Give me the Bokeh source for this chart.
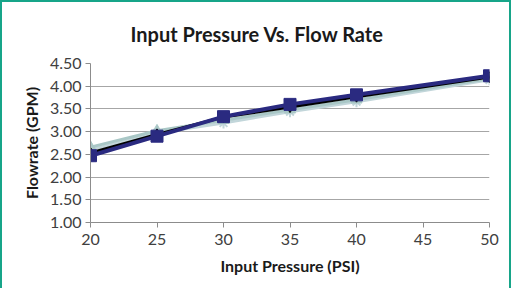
from bokeh.plotting import figure
from bokeh.models import ColumnDataSource, FixedTicker, NumeralTickFormatter, Range1d, Title
from bokeh.embed import file_html
from bokeh.resources import INLINE

pressure = [20, 25, 30, 35, 40, 50]
trial_a = [2.66, 3.02, 3.25, 3.48, 3.70, 4.17]
trial_b = [2.60, 2.97, 3.19, 3.44, 3.66, 4.14]
trial_c = [2.53, 2.94, 3.32, 3.54, 3.77, 4.20]
trial_d = [2.47, 2.90, 3.33, 3.60, 3.81, 4.23]
y_ticks = [1.0, 1.5, 2.0, 2.5, 3.0, 3.5, 4.0, 4.5]
x_ticks = [20, 25, 30, 35, 40, 45, 50]
title_text = "Input Pressure Vs. Flow Rate"

FONT = "Lato"

p = figure(width=511, height=288, output_backend="svg", toolbar_location=None,
           x_range=Range1d(20, 50), y_range=Range1d(1.0, 4.5),
           min_border_left=88, min_border_right=24, min_border_top=61, min_border_bottom=68)
p.styles = {"border": "2px solid #17a589", "border-bottom": "none", "box-sizing": "border-box",
            "box-shadow": "0 -3px 0 #d9d9d9"}
p.background_fill_color = "white"
p.border_fill_color = "white"
p.outline_line_color = None

p.title = Title(text=title_text, align="left", offset=40, vertical_align="middle",
                text_font=FONT, text_font_size="20px", text_font_style="bold",
                text_color="#1a1a1a", standoff=33)

p.xgrid.grid_line_color = None
p.ygrid.grid_line_color = "#a6a6a6"
p.ygrid.grid_line_width = 1

p.xaxis.ticker = FixedTicker(ticks=x_ticks)
p.yaxis.ticker = FixedTicker(ticks=y_ticks)
p.yaxis.formatter = NumeralTickFormatter(format="0.00")
for ax in (p.xaxis[0], p.yaxis[0]):
    ax.axis_line_color = "#8c8c8c"
    ax.major_tick_line_color = "#8c8c8c"
    ax.major_tick_out = 5
    ax.major_tick_in = 0
    ax.minor_tick_line_color = None
    ax.major_label_text_font = FONT
    ax.major_label_text_font_size = "16px"
    ax.major_label_text_color = "#404040"
    ax.axis_label_text_font = FONT
    ax.axis_label_text_font_size = "16px"
    ax.axis_label_text_font_style = "bold"
    ax.axis_label_text_color = "#1a1a1a"
p.xaxis.axis_label = "Input Pressure (PSI)"
p.yaxis.axis_label = "Flowrate (GPM)"
p.xaxis.major_label_standoff = 6
p.xaxis.axis_label_standoff = 8
p.yaxis.major_label_standoff = 4
p.yaxis.axis_label_standoff = 6

src = ColumnDataSource(dict(x=pressure, a=trial_a, b=trial_b, c=trial_c, d=trial_d))

p.line("x", "b", source=src, line_color="#c2d6da", line_width=3)
p.scatter("x", "b", source=src, marker="asterisk", size=11, line_color="#c2d6da", line_width=2)
p.line("x", "a", source=src, line_color="#a9c7c6", line_width=3)
p.scatter("x", "a", source=src, marker="triangle", size=11, fill_color="#a9c7c6", line_color="#a9c7c6")
p.line("x", "c", source=src, line_color="#000000", line_width=3)
p.scatter("x", "c", source=src, marker="diamond", size=11, fill_color="#000000", line_color="#000000")
p.line("x", "d", source=src, line_color="#2a2a80", line_width=4)
p.scatter("x", "d", source=src, marker="square", size=12, fill_color="#2a2a80", line_color="#2a2a80")

open("out.html", "w").write(file_html(p, INLINE))
